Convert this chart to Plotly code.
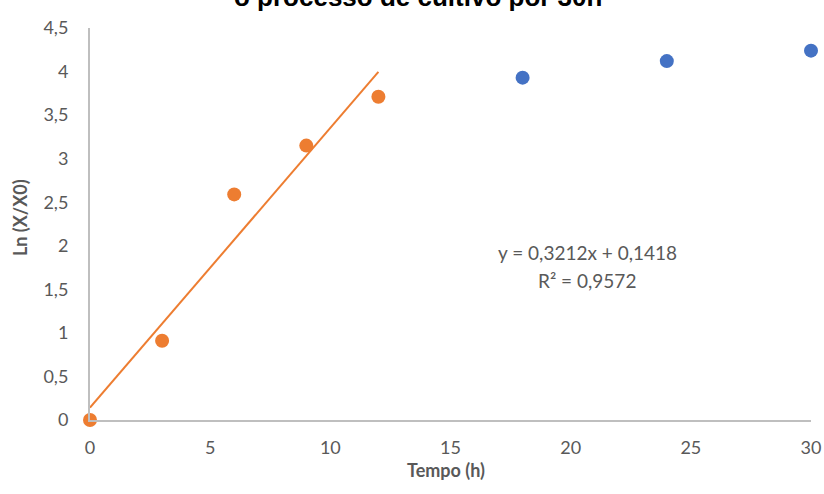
import plotly.graph_objects as go

# Data
exp_time = [0, 3, 6, 9, 12]
exp_ln = [0, 0.91, 2.59, 3.15, 3.71]
stat_time = [18, 24, 30]
stat_ln = [3.93, 4.12, 4.24]
slope = 0.3212
intercept = 0.1418
r2 = 0.9572
title_text = "o processo de cultivo por 30h"
x_title = "Tempo (h)"
y_title = "Ln (X/X0)"

ORANGE = "#ED7D31"
BLUE = "#4472C4"
GRAY = "#595959"
AXIS = "#BFBFBF"
FONT = "Lato, 'Open Sans', sans-serif"

line_x = [min(exp_time), max(exp_time)]
line_y = [slope * v + intercept for v in line_x]

fig = go.Figure()
fig.add_trace(go.Scatter(x=stat_time, y=stat_ln, mode="markers",
                         marker=dict(color=BLUE, size=14), cliponaxis=False, showlegend=False))
fig.add_trace(go.Scatter(x=line_x, y=line_y, mode="lines",
                         line=dict(color=ORANGE, width=2), cliponaxis=False, showlegend=False))
fig.add_trace(go.Scatter(x=exp_time, y=exp_ln, mode="markers",
                         marker=dict(color=ORANGE, size=14), cliponaxis=False, showlegend=False))

eq = f"y = {slope:.4f}x + {intercept:.4f}".replace(".", ",")
r2t = f"R² = {r2:.4f}".replace(".", ",")
fig.add_annotation(x=20.7, y=1.92, text=eq, showarrow=False, xref="x", yref="y",
                   font=dict(family=FONT, size=19, color=GRAY))
fig.add_annotation(x=20.7, y=1.60, text=r2t, showarrow=False, xref="x", yref="y",
                   font=dict(family=FONT, size=19, color=GRAY))

# chart title (top line partly outside the canvas, as in the reference)
fig.add_annotation(x=0.455, y=1.035, xref="paper", yref="paper", xanchor="center", yanchor="bottom",
                   text=f"<b>{title_text}</b>", showarrow=False,
                   font=dict(family="Liberation Sans, Arial", size=26, color="black"))
# axis titles
fig.add_annotation(x=0.494, y=0, xref="paper", yref="paper", yshift=-50, xanchor="center", yanchor="middle",
                   text=f"<b>{x_title}</b>", showarrow=False, font=dict(family=FONT, size=18, color=GRAY))
fig.add_annotation(x=0, y=0.515, xref="paper", yref="paper", xshift=-70, xanchor="center", yanchor="middle",
                   textangle=-90, text=f"<b>{y_title}</b>", showarrow=False,
                   font=dict(family=FONT, size=18, color=GRAY))

fig.update_layout(
    width=824, height=494,
    margin=dict(l=90, r=13, t=28, b=74, autoexpand=False),
    paper_bgcolor="white", plot_bgcolor="white",
    separators=",.",
    font=dict(family=FONT, color=GRAY, size=18),
)
fig.update_xaxes(range=[0, 30], dtick=5, tick0=0, showgrid=False, zeroline=False, automargin=False,
                 showline=True, linecolor=AXIS, linewidth=2, ticks="", ticklabelstandoff=10,
                 tickfont=dict(size=18, color=GRAY))
fig.update_yaxes(range=[0, 4.5], dtick=0.5, tick0=0, showgrid=False, zeroline=False, automargin=False,
                 showline=True, linecolor=AXIS, linewidth=2, ticks="", ticklabelstandoff=16,
                 tickfont=dict(size=18, color=GRAY))

fig.write_html("out.html", config={"displayModeBar": False},
               post_script="document.body.style.margin='0';")
